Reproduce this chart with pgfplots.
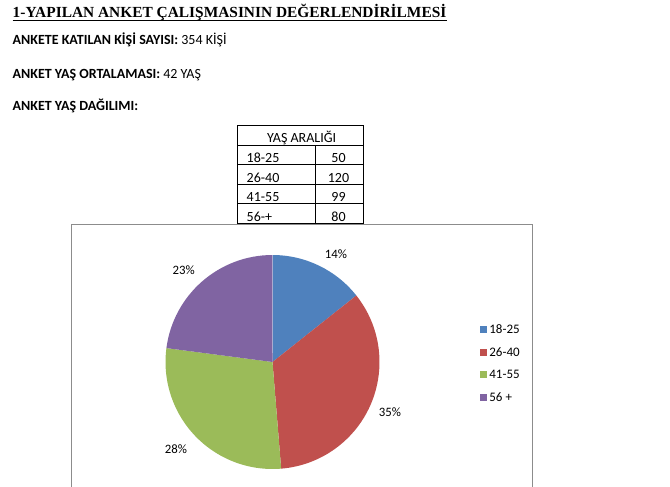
\documentclass[border=0pt]{standalone}
\usepackage{pgfplots}
\pgfplotsset{compat=1.18}
\usepackage{fontspec}
\setmainfont{Carlito}
\newfontfamily\titlefont{Liberation Serif}
\definecolor{c1}{HTML}{4F81BD}
\definecolor{c2}{HTML}{C0504D}
\definecolor{c3}{HTML}{9BBB59}
\definecolor{c4}{HTML}{8064A2}
\definecolor{boxgray}{HTML}{8C8C8C}
% age distribution data (YAŞ ARALIĞI)
\def\vA{50}\def\vB{120}\def\vC{99}\def\vD{80}
\pgfmathsetmacro\tot{\vA+\vB+\vC+\vD}
\pgfmathsetmacro\aA{90-\vA/\tot*360}
\pgfmathsetmacro\aB{\aA-\vB/\tot*360}
\pgfmathsetmacro\aC{\aB-\vC/\tot*360}
\pgfmathsetmacro\aD{\aC-\vD/\tot*360}
\pgfmathsetmacro\xA{cos(\aA)}\pgfmathsetmacro\yA{sin(\aA)}
\pgfmathsetmacro\xB{cos(\aB)}\pgfmathsetmacro\yB{sin(\aB)}
\pgfmathsetmacro\xC{cos(\aC)}\pgfmathsetmacro\yC{sin(\aC)}
\begin{document}
\begin{tikzpicture}
\useasboundingbox (0pt,0pt) rectangle (670pt,-487pt);
% title
\node[anchor=base west, inner sep=0pt] (title) at (12.5pt,-18pt)
  {\titlefont\bfseries\fontsize{15.4pt}{17pt}\selectfont 1-YAPILAN ANKET ÇALIŞMASININ DEĞERLENDİRİLMESİ};
\draw[line width=1.3pt] ([yshift=-2.5pt]title.base west) -- ([yshift=-2.5pt]title.base east);
% info lines
\node[anchor=base west, inner sep=0pt] at (12.5pt,-45pt)
  {\fontsize{14pt}{16pt}\selectfont\textbf{ANKETE KATILAN KİŞİ SAYISI:} 354 KİŞİ};
\node[anchor=base west, inner sep=0pt] at (12.5pt,-78pt)
  {\fontsize{14pt}{16pt}\selectfont\textbf{ANKET YAŞ ORTALAMASI:} 42 YAŞ};
\node[anchor=base west, inner sep=0pt] at (12.5pt,-110.5pt)
  {\fontsize{14pt}{16pt}\selectfont\textbf{ANKET YAŞ DAĞILIMI:}};
% table
\begin{scope}[line width=0.8pt]
\draw (237.5pt,-125.5pt) rectangle (363.5pt,-223pt);
\foreach \yy in {145.5,164.5,184.5,203.5} {\draw (237.5pt,-\yy pt) -- (363.5pt,-\yy pt);}
\draw (315pt,-145.5pt) -- (315pt,-223pt);
\end{scope}
\begin{scope}[every node/.style={inner sep=0pt, font=\fontsize{14pt}{16pt}\selectfont}]
\node[anchor=base] at (301.7pt,-142.6pt) {YAŞ ARALIĞI};
\node[anchor=base west] at (246.5pt,-162.8pt) {18-25};
\node[anchor=base west] at (246.5pt,-182.6pt) {26-40};
\node[anchor=base west] at (246.5pt,-201.8pt) {41-55};
\node[anchor=base west] at (246.5pt,-221.2pt) {56-+};
\node[anchor=base] at (338.5pt,-162.8pt) {\vA};
\node[anchor=base] at (338.5pt,-182.6pt) {\vB};
\node[anchor=base] at (338.5pt,-201.8pt) {\vC};
\node[anchor=base] at (338.5pt,-221.2pt) {\vD};
\end{scope}
% chart frame
\draw[boxgray, line width=1pt] (71.7pt,-487pt) -- (71.7pt,-224.5pt) -- (532.7pt,-224.5pt) -- (532.7pt,-487pt);
% pie
\begin{axis}[at={(165.5pt,-469pt)}, anchor=south west, scale only axis,
  width=214pt, height=214pt, xmin=-1, xmax=1, ymin=-1, ymax=1,
  axis lines=none, clip=false,
  legend image code/.code={\fill[#1] (0pt,-3pt) rectangle (6pt,3pt);},
  legend style={at={(1.4696,0.4944)}, anchor=west, draw=none, fill=none,
    inner sep=0pt, outer sep=0pt, row sep=14.2pt,
    font=\fontsize{13pt}{15pt}\selectfont,
    nodes={inner sep=0pt, text height=8.5pt, text depth=0pt},
    /tikz/every odd column/.append style={column sep=3pt}},
  legend cell align=left]
\addlegendimage{c1}\addlegendentry{18-25}
\addlegendimage{c2}\addlegendentry{26-40}
\addlegendimage{c3}\addlegendentry{41-55}
\addlegendimage{c4}\addlegendentry{56 +}
\fill[c1] (axis cs:0,0) -- (axis cs:0,1) arc[start angle=90, end angle=\aA, radius=107pt] -- cycle;
\fill[c2] (axis cs:0,0) -- (axis cs:\xA,\yA) arc[start angle=\aA, end angle=\aB, radius=107pt] -- cycle;
\fill[c3] (axis cs:0,0) -- (axis cs:\xB,\yB) arc[start angle=\aB, end angle=\aC, radius=107pt] -- cycle;
\fill[c4] (axis cs:0,0) -- (axis cs:\xC,\yC) arc[start angle=\aC, end angle=\aD, radius=107pt] -- cycle;
\end{axis}
% percentage labels
\begin{scope}[every node/.style={inner sep=0pt, font=\fontsize{12.8pt}{14pt}\selectfont}]
\node at (336pt,-254pt) {14\%};
\node at (390pt,-411.7pt) {35\%};
\node at (176pt,-449.3pt) {28\%};
\node at (183.7pt,-270pt) {23\%};
\end{scope}
\end{tikzpicture}
\end{document}
